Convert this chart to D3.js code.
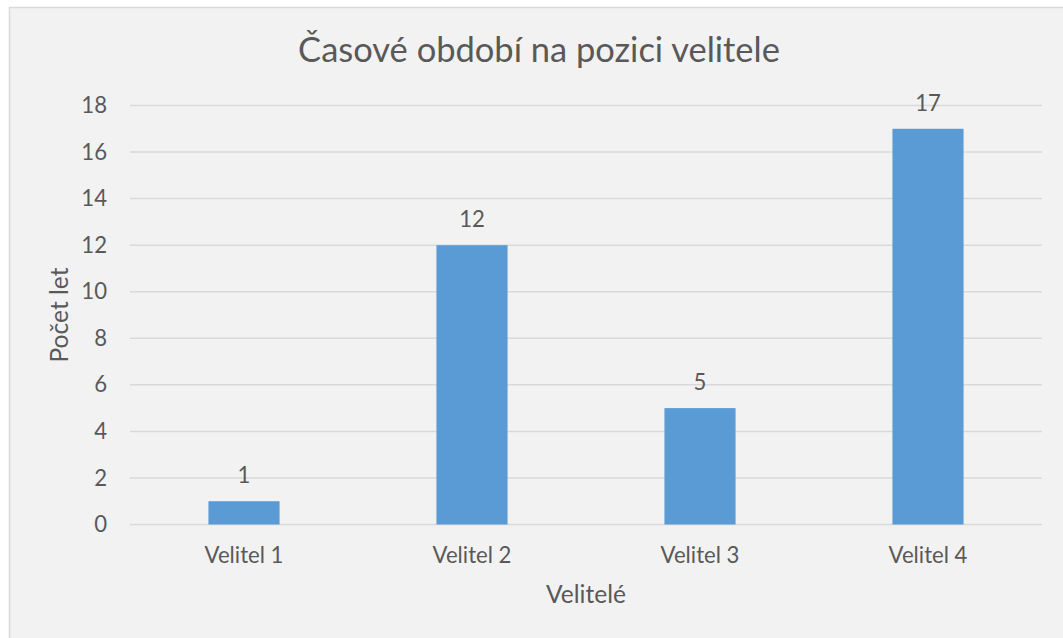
<!DOCTYPE html>
<html>
<head>
<meta charset="utf-8">
<script src="https://cdn.jsdelivr.net/npm/d3@7"></script>
<style>
  html, body { margin: 0; padding: 0; background: #ffffff; }
  svg { display: block; }
  text { font-family: Lato, "Open Sans", "Noto Sans", sans-serif; fill: #595959; }
</style>
</head>
<body>
<svg id="chart" width="1063" height="638"></svg>
<script>
// ---- data ----
const categories = ["Velitel 1", "Velitel 2", "Velitel 3", "Velitel 4"];
const values = [1, 12, 5, 17];
const yTicks = [0, 2, 4, 6, 8, 10, 12, 14, 16, 18];
const chartTitle = "Časové období na pozici velitele";
const xTitle = "Velitelé";
const yTitle = "Počet let";

const W = 1063, H = 638;
const svg = d3.select("#chart");

// chart area background + border
svg.append("rect")
  .attr("x", 9.5).attr("y", 7.5)
  .attr("width", W + 20).attr("height", H + 20)
  .attr("fill", "#f2f2f2").attr("stroke", "#d9d9d9").attr("stroke-width", 1.5);

const plot = { left: 130, right: 1042, top: 105.5, bottom: 524.5 };

const x = d3.scaleBand().domain(categories).range([plot.left, plot.right]).paddingInner(0).paddingOuter(0);
const y = d3.scaleLinear().domain([0, 18]).range([plot.bottom, plot.top]);
const barW = x.bandwidth() * 0.312;

// helper: fit font size to a target width
function fitSize(sel, text, targetW, base) {
  const t = svg.append("text").style("font-size", base + "px").text(text);
  const w = t.node().getComputedTextLength();
  t.remove();
  return base * targetW / w;
}
const tickSize = fitSize(svg, "Velitel 1", 79, 20);
const titleSize = fitSize(svg, chartTitle, 482, 30);
const axisTitleSize = fitSize(svg, xTitle, 80, 20);

// gridlines
svg.append("g").selectAll("line").data(yTicks).join("line")
  .attr("x1", plot.left).attr("x2", plot.right)
  .attr("y1", d => y(d)).attr("y2", d => y(d))
  .attr("stroke", "#d9d9d9").attr("stroke-width", 1.5);

// y axis labels
const yAxis = d3.axisLeft(y).tickValues(yTicks).tickSize(0).tickPadding(0);
const gy = svg.append("g").attr("transform", `translate(107,0)`).call(yAxis);
gy.select(".domain").remove();
gy.selectAll("text").style("font-size", tickSize + "px").attr("fill", "#595959")
  .style("font-family", "Lato, 'Open Sans', sans-serif").attr("x", 0);

// x axis labels
const xAxis = d3.axisBottom(x).tickSize(0).tickPadding(0);
const gx = svg.append("g").attr("transform", `translate(0,${plot.bottom})`).call(xAxis);
gx.select(".domain").remove();
gx.selectAll("text").style("font-size", tickSize + "px").attr("fill", "#595959")
  .style("font-family", "Lato, 'Open Sans', sans-serif")
  .attr("dy", null).attr("y", 563 - plot.bottom);

// bars
svg.append("g").selectAll("rect").data(values).join("rect")
  .attr("x", (d, i) => x(categories[i]) + x.bandwidth() / 2 - barW / 2)
  .attr("width", barW)
  .attr("y", d => y(d))
  .attr("height", d => y(0) - y(d))
  .attr("fill", "#5b9bd5");

// data labels
svg.append("g").selectAll("text").data(values).join("text")
  .attr("x", (d, i) => x(categories[i]) + x.bandwidth() / 2)
  .attr("y", d => y(d) - 18)
  .attr("text-anchor", "middle")
  .style("font-size", tickSize + "px")
  .attr("fill", "#404040")
  .text(d => d);

// title
svg.append("text").attr("x", 539).attr("y", 62).attr("text-anchor", "middle")
  .style("font-size", titleSize + "px").text(chartTitle);

// x axis title
svg.append("text").attr("x", (plot.left + plot.right) / 2).attr("y", 603)
  .attr("text-anchor", "middle").style("font-size", axisTitleSize + "px").text(xTitle);

// y axis title
svg.append("text").attr("transform", `translate(68,${(plot.top + plot.bottom) / 2}) rotate(-90)`)
  .attr("text-anchor", "middle").style("font-size", axisTitleSize + "px").text(yTitle);
</script>
</body>
</html>
